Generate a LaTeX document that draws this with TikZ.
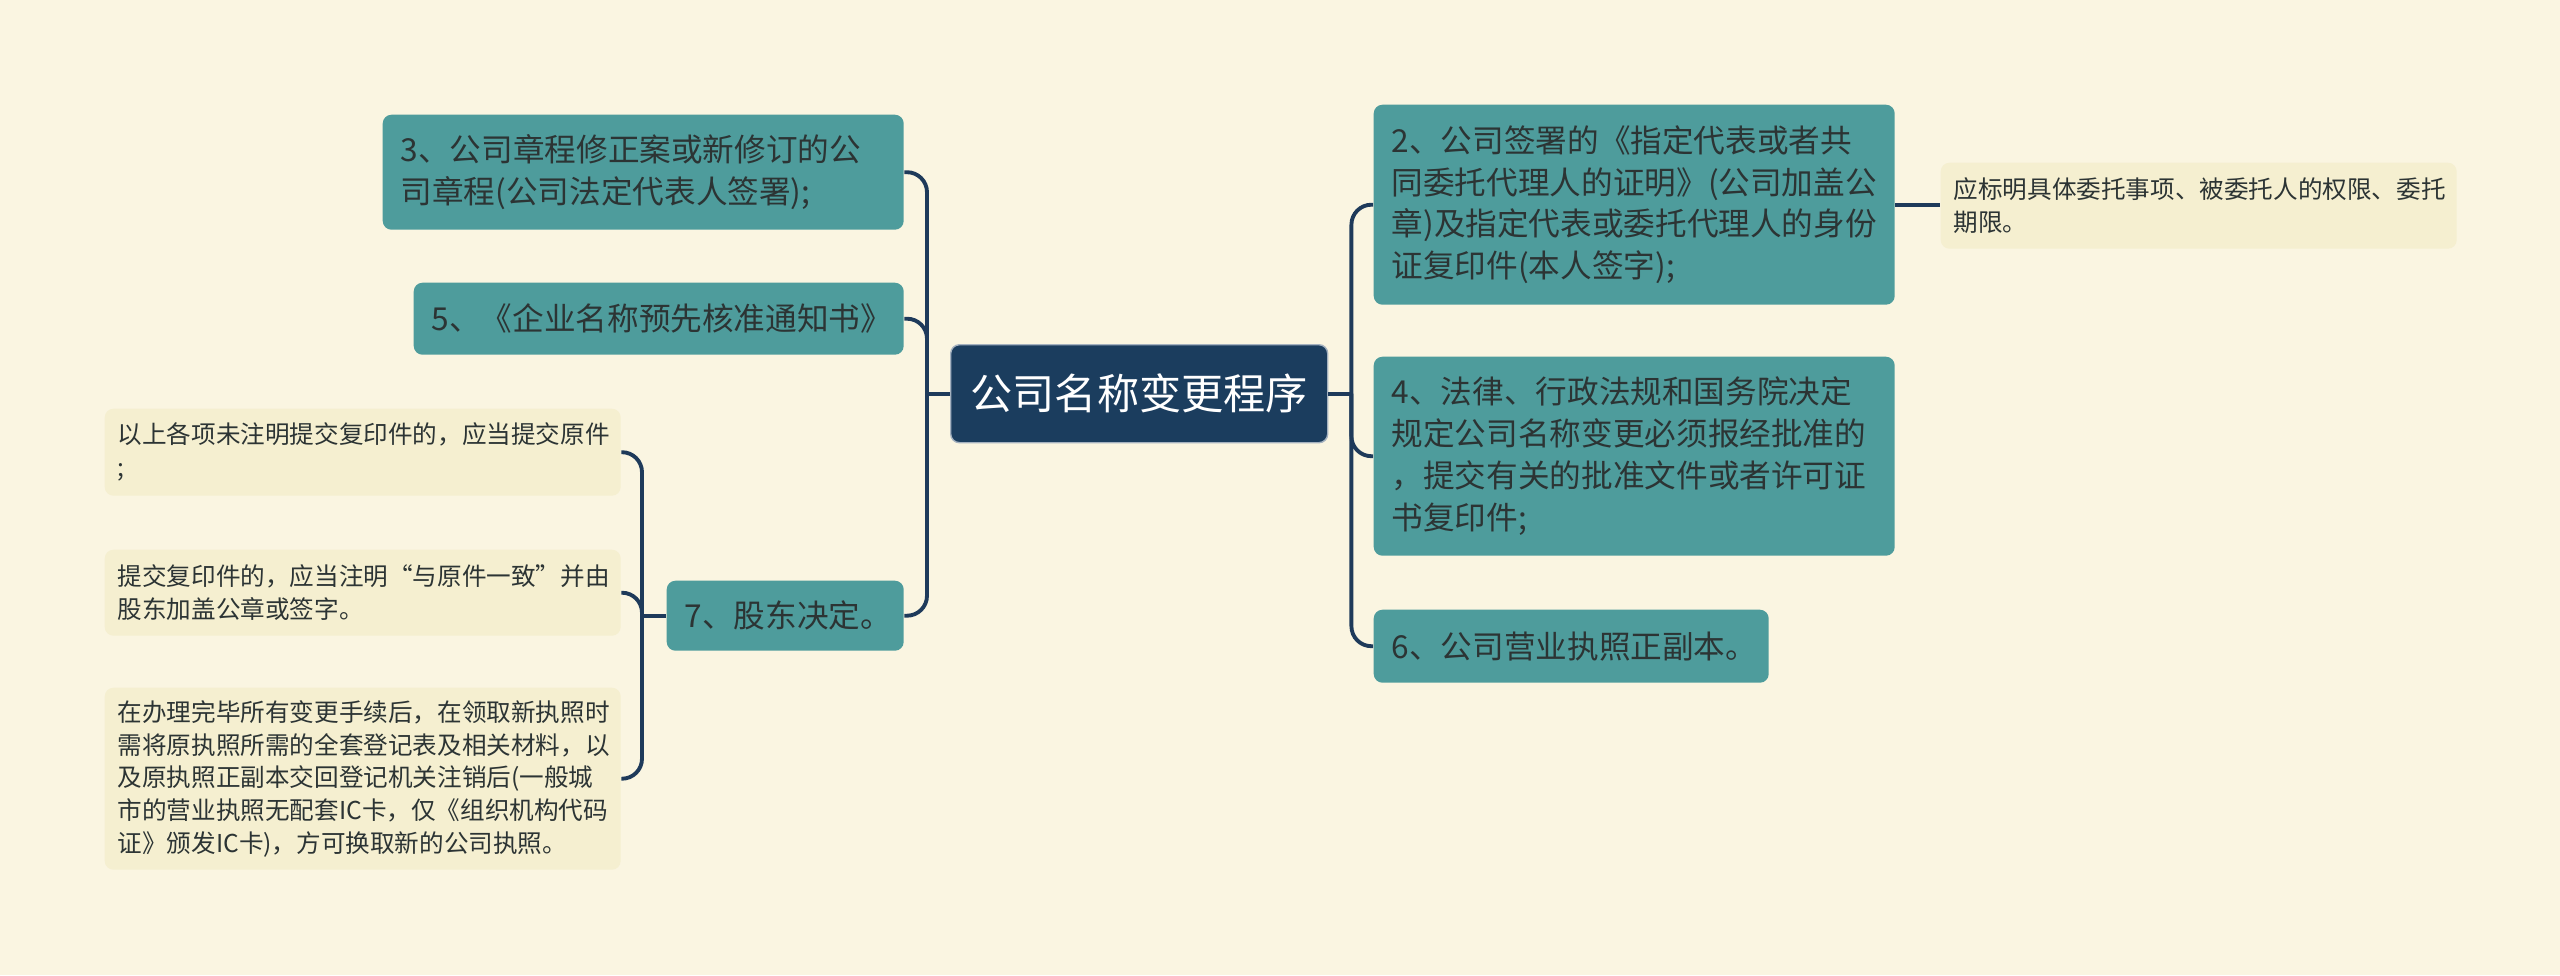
\documentclass[tikz,border=0pt]{standalone}
\usepackage{fontspec}
\setmainfont{Noto Sans CJK SC}
\usepackage{tikz}

\definecolor{bgcream}{HTML}{FAF5E1}
\definecolor{topicteal}{HTML}{4E9C9C}
\definecolor{rootnavy}{HTML}{1B3D5E}
\definecolor{leafcream}{HTML}{F5EFD0}
\definecolor{linknavy}{HTML}{1E3A5A}
\definecolor{inkgray}{HTML}{2C3434}

\begin{document}
\begin{tikzpicture}[
        root/.style={rectangle, rounded corners=2.5pt, fill=rootnavy, draw=white!60!rootnavy,
                     text=white, anchor=north west, inner sep=0pt, align=center,
                     font=\fontsize{12}{14}\selectfont},
        topic/.style={rectangle, rounded corners=2.5pt, fill=topicteal, text=inkgray,
                      anchor=north west, inner xsep=0.18cm, inner ysep=0pt, align=left,
                      font=\fontsize{9}{11.9}\selectfont},
        leaf/.style={rectangle, rounded corners=2.5pt, fill=leafcream, text=inkgray,
                     anchor=north west, inner xsep=0.13cm, inner ysep=0pt, align=left,
                     font=\fontsize{7}{9.3}\selectfont},
        link/.style={draw=linknavy, line width=1.1pt, rounded corners=2mm},
    ]
        \fill[bgcream] (0,0) rectangle (25.6,-9.75);
        \useasboundingbox (0,0) rectangle (25.6,-9.75);

        \node[root, minimum width=3.77cm, minimum height=0.98cm] (root) at (9.50,-3.44) {公司名称变更程序};

        % left branch
        \node[topic, text width=4.85cm, minimum height=1.15cm] (n3) at (3.82,-1.14)
            {3、公司章程修正案或新修订的公\\司章程(公司法定代表人签署);};
        \node[topic, text width=4.54cm, minimum height=0.72cm] (n5) at (4.13,-2.82)
            {5、《企业名称预先核准通知书》};
        \node[topic, text width=2.01cm, minimum height=0.70cm] (n7) at (6.66,-5.80)
            {7、股东决定。};

        \node[leaf, text width=4.90cm, minimum height=0.87cm] (la) at (1.04,-4.08)
            {以上各项未注明提交复印件的，应当提交原件\\;};
        \node[leaf, text width=4.90cm, minimum height=0.86cm] (lb) at (1.04,-5.49)
            {提交复印件的，应当注明“与原件一致”并由\\股东加盖公章或签字。};
        \node[leaf, text width=4.90cm, minimum height=1.82cm] (lc) at (1.04,-6.87)
            {在办理完毕所有变更手续后，在领取新执照时\\需将原执照所需的全套登记表及相关材料，以\\及原执照正副本交回登记机关注销后(一般城\\市的营业执照无配套IC卡，仅《组织机构代码\\证》颁发IC卡)，方可换取新的公司执照。};

        % right branch
        \node[topic, text width=4.85cm, minimum height=2.00cm] (n2) at (13.73,-1.04)
            {2、公司签署的《指定代表或者共\\同委托代理人的证明》(公司加盖公\\章)及指定代表或委托代理人的身份\\证复印件(本人签字);};
        \node[topic, text width=4.85cm, minimum height=1.99cm] (n4) at (13.73,-3.56)
            {4、法律、行政法规和国务院决定\\规定公司名称变更必须报经批准的\\，提交有关的批准文件或者许可证\\书复印件;};
        \node[topic, text width=3.59cm, minimum height=0.73cm] (n6) at (13.73,-6.09)
            {6、公司营业执照正副本。};

        \node[leaf, text width=4.90cm, minimum height=0.86cm] (ld) at (19.40,-1.62)
            {应标明具体委托事项、被委托人的权限、委托\\期限。};

        \coordinate (ltrunk) at ([xshift=-2.3mm]root.west);
        \coordinate (rtrunk) at ([xshift=2.3mm]root.east);
        \coordinate (strunk) at ([xshift=-2.4mm]n7.west);

        \draw[link] (n3.east) -| (ltrunk) |- (n7.east);
        \draw[link] (n5.east) -| (ltrunk);
        \draw[link] (root.west) -- (ltrunk);

        \draw[link] (n2.west) -| (rtrunk) |- (n6.west);
        \draw[link] (n4.west) -| (rtrunk);
        \draw[link] (root.east) -- (rtrunk);

        \draw[link] (la.east) -| (strunk) |- (lc.east);
        \draw[link] (lb.east) -| (strunk);
        \draw[link] (n7.west) -- (strunk);

        \draw[link] (n2.east) -- (n2.east -| ld.west);
    \end{tikzpicture}
\end{document}
